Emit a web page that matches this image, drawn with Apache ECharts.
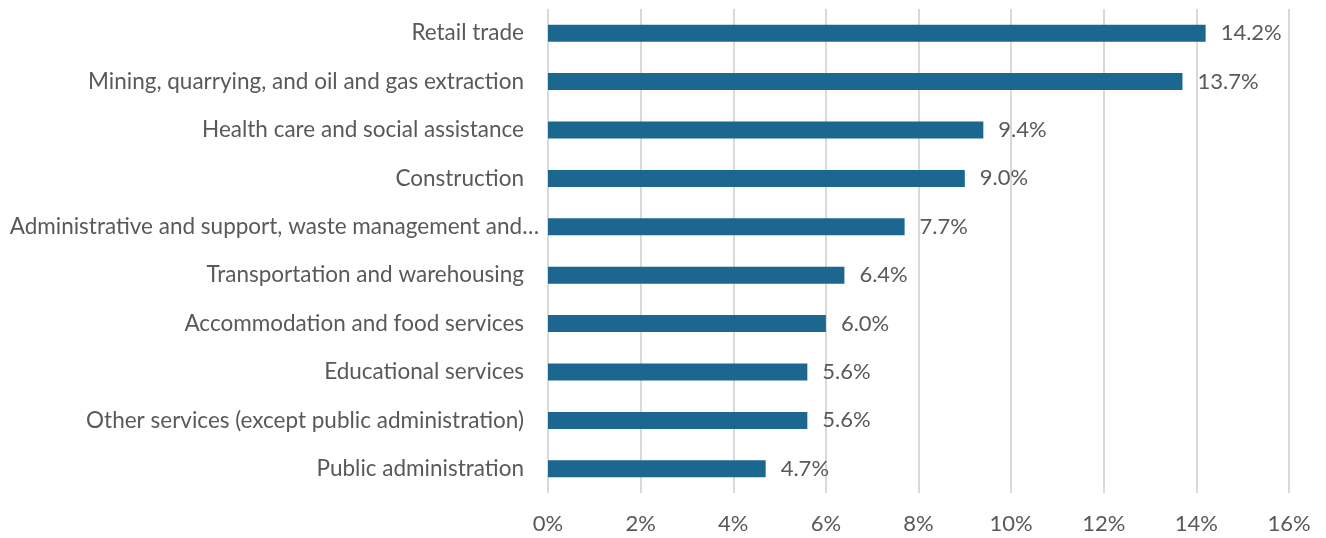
<!DOCTYPE html>
<html>
<head>
<meta charset="utf-8">
<script src="https://cdn.jsdelivr.net/npm/echarts@6/dist/echarts.min.js"></script>
<style>
  html, body { margin: 0; padding: 0; background: #ffffff; }
  #chart { width: 1326px; height: 538px; }
</style>
</head>
<body>
<div id="chart"></div>
<script>
// Industries, listed bottom to top as drawn on the category axis
const industries = [
  "Public administration",
  "Other services (except public administration)",
  "Educational services",
  "Accommodation and food services",
  "Transportation and warehousing",
  "Administrative and support, waste management and…",
  "Construction",
  "Health care and social assistance",
  "Mining, quarrying, and oil and gas extraction",
  "Retail trade"
];

// Share of total, in percent
const shares = [4.7, 5.6, 5.6, 6.0, 6.4, 7.7, 9.0, 9.4, 13.7, 14.2];

// Value axis range and step, in percent
const axisMin = 0;
const axisMax = 16;
const axisStep = 2;

const FONT = "Lato, 'Open Sans', sans-serif";
const TEXT = "#595959";

const chart = echarts.init(document.getElementById("chart"), null, { renderer: "canvas" });

// The shortened label runs a little closer to the bars than the others
const categoryData = industries.map(name =>
  name.endsWith("…")
    ? { value: name, textStyle: { padding: [0, -15, 0, 0] } }
    : name
);

chart.setOption({
  animation: false,
  backgroundColor: "#ffffff",
  grid: { left: 548, right: 37, top: 9, bottom: 45, containLabel: false },
  xAxis: {
    type: "value",
    min: axisMin,
    max: axisMax,
    interval: axisStep,
    axisLine: { show: false },
    axisTick: { show: false },
    splitLine: { show: true, lineStyle: { color: "#d9d9d9", width: 2 } },
    axisLabel: {
      margin: 20,
      color: TEXT,
      fontFamily: FONT,
      fontSize: 22,
      formatter: v => v + "%"
    }
  },
  yAxis: {
    type: "category",
    data: categoryData,
    axisLine: { show: false },
    axisTick: { show: false },
    axisLabel: {
      margin: 24,
      color: TEXT,
      fontFamily: FONT,
      fontSize: 22.5
    }
  },
  series: [{
    type: "bar",
    data: shares,
    barWidth: 17,
    itemStyle: { color: "#1b6790" },
    label: {
      show: true,
      position: "right",
      distance: 15,
      color: TEXT,
      fontFamily: FONT,
      fontSize: 22,
      formatter: p => p.value.toFixed(1) + "%"
    }
  }]
});
</script>
</body>
</html>
